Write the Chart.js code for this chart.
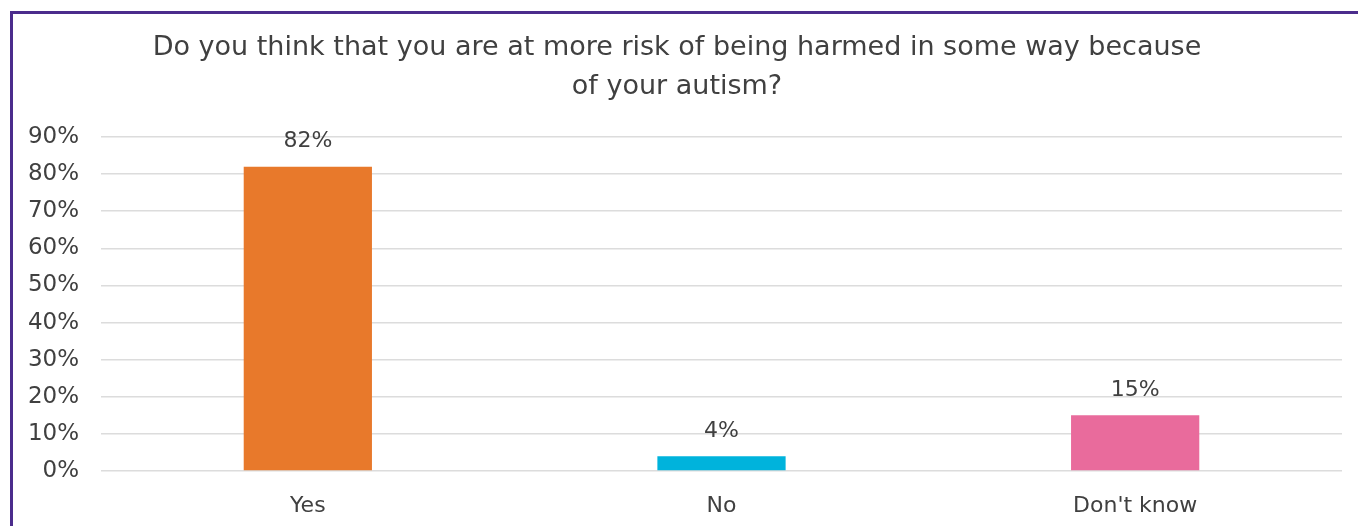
<!DOCTYPE html>
<html>
<head>
<meta charset="utf-8">
<script src="https://cdn.jsdelivr.net/npm/chart.js@4"></script>
<style>
  html, body { margin: 0; padding: 0; background: #fff; overflow: hidden; width: 1358px; height: 526px; }
  #frame { position: absolute; left: 10px; top: 11px; width: 1400px; height: 600px;
           border-left: 3px solid #4b2c8c; border-top: 3px solid #4b2c8c; }
  #wrap { position: absolute; left: -1px; top: -1px; width: 1352px; height: 513px; }
</style>
</head>
<body>
<div id="frame"><div id="wrap"><canvas id="c" width="1352" height="513"></canvas></div></div>
<script>
const titleLines = ["Do you think that you are at more risk of being harmed in some way because", "of your autism?"];
const categories = ["Yes", "No", "Don't know"];
const values = [82, 4, 15];
const barColors = ["#e8792b", "#00b3dc", "#e96b9c"];
const yMax = 90;
const yStep = 10;

const FONT = "'DejaVu Sans', sans-serif";
const TEXT = "#404040";

const valueLabels = {
  id: 'valueLabels',
  afterDatasetsDraw(chart) {
    const ctx = chart.ctx;
    const meta = chart.getDatasetMeta(0);
    ctx.save();
    ctx.font = "22px " + FONT;
    ctx.fillStyle = TEXT;
    ctx.textAlign = 'center';
    ctx.textBaseline = 'middle';
    meta.data.forEach((bar, i) => {
      ctx.fillText(values[i] + '%', bar.x, bar.y - 25);
    });
    ctx.restore();
  }
};

new Chart(document.getElementById('c'), {
  type: 'bar',
  data: {
    labels: categories,
    datasets: [{
      data: values,
      backgroundColor: barColors,
      borderWidth: 0,
      barPercentage: 0.31,
      categoryPercentage: 1
    }]
  },
  options: {
    responsive: false,
    animation: false,
    layout: { padding: { left: 0, right: 22, top: 0, bottom: 0 } },
    plugins: {
      legend: { display: false },
      tooltip: { enabled: false },
      title: {
        display: true,
        text: titleLines,
        color: TEXT,
        font: { family: FONT, size: 27, weight: 'normal', lineHeight: 1.444 },
        padding: { top: 15.5, bottom: 30.5 }
      }
    },
    scales: {
      x: {
        grid: { display: false, drawTicks: false },
        border: { display: false },
        ticks: { color: TEXT, font: { family: FONT, size: 22 }, padding: 22 },
        afterFit(scale) { scale.height = 55; }
      },
      y: {
        min: 0,
        max: yMax,
        grid: { color: "#dcdcdc", lineWidth: 1.5, drawTicks: false },
        border: { display: false },
        ticks: {
          stepSize: yStep,
          color: TEXT,
          font: { family: FONT, size: 23 },
          padding: 22,
          callback: v => v + '%'
        },
        afterFit(scale) { scale.width = 89; }
      }
    }
  },
  plugins: [valueLabels]
});
</script>
</body>
</html>
